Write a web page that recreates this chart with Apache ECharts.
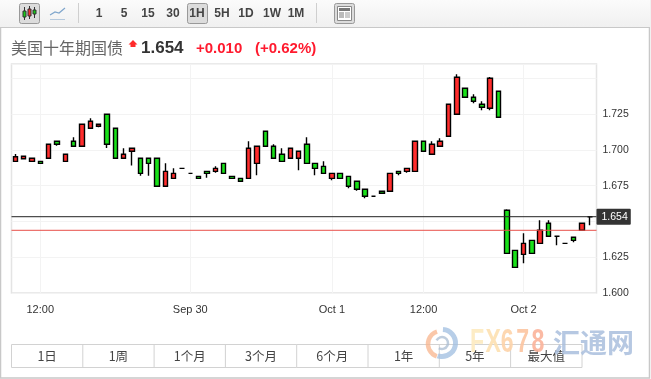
<!DOCTYPE html>
<html>
<head>
<meta charset="utf-8">
<style>
  html, body { margin: 0; padding: 0; background: #fff; }
  #chart { width: 651px; height: 379px; }
</style>
<script src="https://cdn.jsdelivr.net/npm/echarts@6/dist/echarts.min.js"></script>
</head>
<body>
<div id="chart"></div>
<script>
const categories = [
  '', '', '', '12:00', '', '', '', '', '', '',
  '', '', '', '', '', '', '', '', '', '',
  '', 'Sep 30', '', '', '', '', '', '', '', '',
  '', '', '', '', '', '', '', '', 'Oct 1', '',
  '', '', '', '', '', '', '', '', '', '12:00',
  '', '', '', '', '', '', '', '', '', '',
  '', 'Oct 2', '', '', '', '', '', '', '', ''
]
const opens = [
  1.6920, 1.6938, 1.6920, 1.6920, 1.6941, 1.7060, 1.6920, 1.7060, 1.7025, 1.7151,
  1.7165, 1.7249, 1.7151, 1.6941, 1.6990, 1.6941, 1.6941, 1.6941, 1.6746, 1.6801,
  1.6871, 1.6836, 1.6815, 1.6850, 1.6850, 1.6906, 1.6815, 1.6801, 1.6801, 1.6906,
  1.7130, 1.7025, 1.6969, 1.6941, 1.6941, 1.7039, 1.6906, 1.6885, 1.6801, 1.6836,
  1.6815, 1.6781, 1.6725, 1.6676, 1.6711, 1.6711, 1.6850, 1.6850, 1.6850, 1.7060,
  1.6969, 1.7025, 1.7095, 1.7249, 1.7431, 1.7368, 1.7319, 1.7291, 1.7410, 1.6578,
  1.6298, 1.6270, 1.6368, 1.6347, 1.6487, 1.6396, 1.6347, 1.6389, 1.6438, 1.6533
]
const closes = [
  1.6952, 1.6955, 1.6941, 1.6906, 1.7039, 1.7039, 1.6969, 1.7025, 1.7179, 1.7200,
  1.7179, 1.7039, 1.6941, 1.6969, 1.7011, 1.6836, 1.6906, 1.6746, 1.6850, 1.6836,
  1.6871, 1.6836, 1.6801, 1.6836, 1.6871, 1.6836, 1.6801, 1.6781, 1.7011, 1.7025,
  1.7025, 1.6941, 1.6920, 1.7011, 1.6990, 1.6906, 1.6871, 1.6836, 1.6836, 1.6801,
  1.6746, 1.6725, 1.6676, 1.6676, 1.6697, 1.6836, 1.6836, 1.6871, 1.7060, 1.6990,
  1.7039, 1.7060, 1.7319, 1.7507, 1.7368, 1.7340, 1.7298, 1.7500, 1.7228, 1.6277,
  1.6179, 1.6347, 1.6277, 1.6438, 1.6396, 1.6396, 1.6347, 1.6368, 1.6487, 1.6533
]
const lows = [
  1.6920, 1.6938, 1.6920, 1.6906, 1.6941, 1.7029, 1.6920, 1.7025, 1.7025, 1.7151,
  1.7158, 1.7013, 1.6941, 1.6941, 1.6890, 1.6820, 1.6820, 1.6746, 1.6746, 1.6801,
  1.6871, 1.6836, 1.6801, 1.6806, 1.6841, 1.6836, 1.6801, 1.6781, 1.6801, 1.6822,
  1.7025, 1.6941, 1.6920, 1.6941, 1.6857, 1.6906, 1.6822, 1.6836, 1.6788, 1.6801,
  1.6732, 1.6715, 1.6662, 1.6676, 1.6697, 1.6711, 1.6822, 1.6841, 1.6850, 1.6990,
  1.6969, 1.7025, 1.7095, 1.7249, 1.7368, 1.7326, 1.7277, 1.7277, 1.7228, 1.6277,
  1.6179, 1.6207, 1.6277, 1.6347, 1.6396, 1.6333, 1.6347, 1.6354, 1.6438, 1.6473
]
const highs = [
  1.6971, 1.6955, 1.6941, 1.6920, 1.7039, 1.7060, 1.6969, 1.7088, 1.7179, 1.7221,
  1.7179, 1.7249, 1.7151, 1.7011, 1.7011, 1.6941, 1.6941, 1.6941, 1.6906, 1.6871,
  1.6871, 1.6836, 1.6815, 1.6850, 1.6885, 1.6906, 1.6815, 1.6801, 1.7060, 1.7025,
  1.7130, 1.7039, 1.7011, 1.7011, 1.6990, 1.7088, 1.6906, 1.6920, 1.6836, 1.6836,
  1.6815, 1.6781, 1.6725, 1.6676, 1.6711, 1.6836, 1.6850, 1.6871, 1.7060, 1.7060,
  1.7060, 1.7081, 1.7319, 1.7528, 1.7431, 1.7389, 1.7340, 1.7510, 1.7410, 1.6585,
  1.6298, 1.6417, 1.6368, 1.6508, 1.6508, 1.6396, 1.6347, 1.6389, 1.6487, 1.6533
]
const yTickLabels = ['1.600', '1.625', '1.675', '1.700', '1.725']
const lastPrice = 1.6533
const lastLabel = '1.654'
const prevClose = 1.6438
const intervals = ['1', '5', '15', '30', '1H', '5H', '1D', '1W', '1M']
const ranges = ['1日', '1周', '1个月', '3个月', '6个月', '1年', '5年', '最大值']
const brandLetters = ['F', 'X', '6', '7', '8']
const brandColors = ['#fdeabf', '#fde0b0', '#fdd3a8', '#fcc4a0', '#fbb39a']

const LATIN = '"Liberation Sans", Arial, sans-serif'
const CJK = '"Noto Sans CJK SC", sans-serif'

function label(text, x, y, font, fill, align) {
  return {
    type: 'text',
    silent: true,
    style: { text, x, y, font, fill, textAlign: align || 'center', textVerticalAlign: 'middle' },
  }
}

function box(x, y, width, height, fill, stroke, lineWidth, r) {
  return {
    type: 'rect',
    silent: true,
    shape: { x, y, width, height, r: r || 0 },
    style: { fill: fill || 'transparent', stroke: stroke || null, lineWidth: lineWidth || 1 },
  }
}

function seg(x1, y1, x2, y2, stroke, lineWidth) {
  return {
    type: 'line',
    silent: true,
    shape: { x1, y1, x2, y2 },
    style: { stroke, lineWidth: lineWidth || 1 },
  }
}

const intervalX = [99, 124, 148, 173, 197, 222, 246, 272, 296]
const toolbar = [
  {
    type: 'rect',
    silent: true,
    shape: { x: 0, y: 0, width: 650, height: 27 },
    style: {
      fill: new echarts.graphic.LinearGradient(0, 0, 0, 1, [
        { offset: 0, color: '#fbfbfb' },
        { offset: 1, color: '#f0f0f0' },
      ]),
    },
  },
  seg(0, 27.5, 650, 27.5, '#c8c8c8', 1),
  seg(78.5, 3, 78.5, 23, '#cfcfcf', 1),
  seg(316.5, 3, 316.5, 23, '#cfcfcf', 1),
  box(19.5, 3.5, 20, 20, '#dcdcdc', '#999', 1, 2),
  seg(24.5, 7, 24.5, 20, '#333', 1),
  box(23, 11, 3, 6, '#19c819', '#333', 1),
  seg(29.5, 6, 29.5, 19, '#333', 1),
  box(28, 9, 3, 7, '#f03030', '#333', 1),
  seg(34.5, 7, 34.5, 18, '#333', 1),
  box(33, 10, 3, 4, '#19c819', '#333', 1),
  {
    type: 'polyline',
    silent: true,
    shape: { points: [[50, 15], [55, 12], [59, 13], [65, 8]] },
    style: { stroke: '#7fa6cc', lineWidth: 1.2, fill: null },
  },
  seg(50, 19.5, 65, 19.5, '#b5c9dd', 1),
  box(187.5, 3.5, 20, 20, '#dcdcdc', '#999', 1, 2),
  box(334.5, 3.5, 20, 20, '#dcdcdc', '#999', 1, 2),
  box(337.5, 6.5, 14, 14, '#fff', '#888', 1),
  box(339, 8, 11, 3, '#777'),
  box(339, 12, 5, 6, '#bbb'),
  seg(345, 13, 350, 13, '#999', 1),
  seg(345, 15, 350, 15, '#999', 1),
  seg(345, 17, 350, 17, '#999', 1),
]
intervals.forEach((t, i) => {
  toolbar.push(label(t, intervalX[i], 14, 'bold 12px ' + LATIN, '#444'))
})

const title = [
  label('美国十年期国债', 11, 48, '16px ' + CJK, '#666', 'left'),
  {
    type: 'polygon',
    silent: true,
    shape: { points: [[133, 40], [137.5, 44.5], [135.5, 44.5], [135.5, 47], [130.5, 47], [130.5, 44.5], [128.5, 44.5]] },
    style: { fill: '#ff2a2a' },
  },
  label('1.654', 141, 48, 'bold 17px ' + LATIN, '#333', 'left'),
  label('+0.010', 196, 49, 'bold 15px ' + LATIN, '#ff1a2e', 'left'),
  label('(+0.62%)', 255, 49, 'bold 15px ' + LATIN, '#ff1a2e', 'left'),
]

const rangeBar = [box(11.5, 344.5, 570.5, 23, '#fff', '#d2d2d2', 1)]
ranges.forEach((t, i) => {
  const x = 11.5 + i * 71.3
  if (i > 0) rangeBar.push(seg(x, 344.5, x, 367.5, '#d2d2d2', 1))
  rangeBar.push(label(t, x + 35.6, 356.5, '12.5px ' + CJK, '#444'))
})

const watermark = [
  {
    type: 'arc',
    silent: true,
    shape: { cx: 442, cy: 343, r: 13.5, startAngle: -1.5, endAngle: 1.9 },
    style: { stroke: '#9fbde0', lineWidth: 5, fill: null, opacity: 0.75 },
  },
  {
    type: 'arc',
    silent: true,
    shape: { cx: 441, cy: 344, r: 13, startAngle: 1.9, endAngle: 4.4 },
    style: { stroke: '#f8b48c', lineWidth: 4.5, fill: null, opacity: 0.75 },
  },
  {
    type: 'arc',
    silent: true,
    shape: { cx: 442, cy: 343, r: 6, startAngle: 3.6, endAngle: 8.4 },
    style: { stroke: '#a9bcd2', lineWidth: 2.5, fill: null, opacity: 0.75 },
  },
  ...brandLetters.map((t, i) => ({
    type: 'text',
    silent: true,
    x: 470 + i * 15.4,
    y: 343,
    scaleX: 0.68,
    style: {
      text: t,
      x: 0,
      y: 0,
      font: 'bold 34px ' + LATIN,
      fill: brandColors[i],
      textAlign: 'left',
      textVerticalAlign: 'middle',
      opacity: 0.9,
    },
  })),
  {
    type: 'text',
    silent: true,
    style: {
      text: '汇通网',
      x: 553,
      y: 343,
      font: 'bold 27px ' + CJK,
      fill: '#a9bedd',
      textAlign: 'left',
      textVerticalAlign: 'middle',
      opacity: 0.85,
    },
  },
]

const chart = echarts.init(document.getElementById('chart'), null, { renderer: 'canvas' })
chart.setOption({
  animation: false,
  backgroundColor: '#fff',
  grid: [
    { left: 11.1, width: 583.3, top: 64, bottom: 86 },
    { left: 11.5, right: 54.5, top: 64, bottom: 86, show: true, borderColor: '#e4e4e4', borderWidth: 1.5 },
  ],
  xAxis: [
    {
      type: 'category',
      gridIndex: 0,
      data: categories,
      axisLine: { show: false },
      axisTick: { show: false },
      axisLabel: {
        interval: (i, v) => v !== '',
        margin: 11,
        fontSize: 11,
        fontFamily: LATIN,
        color: '#333',
        hideOverlap: false,
      },
      splitLine: {
        show: true,
        alignWithLabel: true,
        interval: (i, v) => v !== '',
        lineStyle: { color: '#f3f3f3', width: 1 },
      },
    },
    { type: 'value', gridIndex: 1, min: 0, max: 1, show: false },
  ],
  yAxis: [
    { type: 'value', gridIndex: 0, min: 1.6, max: 1.76, show: false },
    {
      type: 'value',
      gridIndex: 1,
      position: 'right',
      min: 1.6,
      max: 1.76,
      interval: 0.025,
      axisLine: { show: false },
      axisTick: { show: false },
      axisLabel: {
        margin: 6,
        fontSize: 10.5,
        fontFamily: LATIN,
        color: '#333',
        showMaxLabel: false,
        formatter: (v) => (yTickLabels.includes(v.toFixed(3)) ? v.toFixed(3) : ''),
      },
      splitLine: { show: true, lineStyle: { color: '#f3f3f3', width: 1 } },
    },
  ],
  series: [
    {
      type: 'line',
      xAxisIndex: 1,
      yAxisIndex: 1,
      data: [[0, prevClose], [1, prevClose]],
      symbol: 'none',
      silent: true,
      lineStyle: { color: '#e8504a', width: 1 },
    },
    {
      type: 'line',
      xAxisIndex: 1,
      yAxisIndex: 1,
      data: [[0, lastPrice], [1, lastPrice]],
      symbol: 'none',
      silent: true,
      lineStyle: { color: '#222', width: 1 },
      endLabel: {
        show: true,
        formatter: () => lastLabel,
        distance: 0,
        backgroundColor: '#333',
        color: '#fff',
        fontSize: 10.5,
        fontFamily: LATIN,
        padding: [3, 3, 2, 5],
        borderRadius: 1,
      },
    },
    {
      type: 'candlestick',
      xAxisIndex: 0,
      yAxisIndex: 0,
      barWidth: 5,
      data: opens.map((o, i) => [o, closes[i], lows[i], highs[i]]),
      itemStyle: {
        color: '#ff2d2d',
        color0: '#19e019',
        borderColor: '#000',
        borderColor0: '#000',
        borderColorDoji: '#000',
        borderWidth: 1.4,
      },
    },
  ],
  graphic: {
    elements: [
      box(0.5, 0.5, 649, 377.5, null, '#c8c8c8', 1.5),
      ...toolbar,
      ...title,
      ...rangeBar,
      ...watermark.map((el) => ({ ...el, z: 100 })),
    ],
  },
})
</script>
</body>
</html>
